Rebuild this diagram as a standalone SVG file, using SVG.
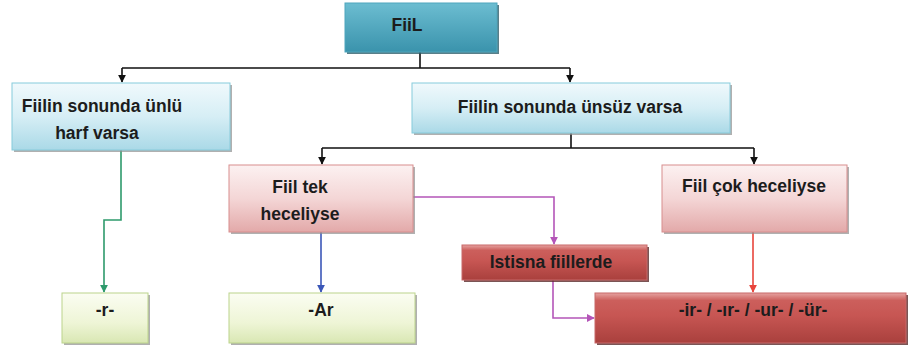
<svg xmlns="http://www.w3.org/2000/svg" width="909" height="351" viewBox="0 0 909 351">
<defs>
<linearGradient id="gTeal" x1="0" y1="0" x2="0" y2="1"><stop offset="0" stop-color="#6cbdd1"/><stop offset="1" stop-color="#3a93ac"/></linearGradient>
<linearGradient id="gBlue" x1="0" y1="0" x2="0" y2="1"><stop offset="0" stop-color="#f0f9fc"/><stop offset="0.5" stop-color="#d6eef5"/><stop offset="1" stop-color="#aad9e7"/></linearGradient>
<linearGradient id="gPink" x1="0" y1="0" x2="0" y2="1"><stop offset="0" stop-color="#fcf1f1"/><stop offset="0.5" stop-color="#f4d6d6"/><stop offset="1" stop-color="#e3a9a9"/></linearGradient>
<linearGradient id="gGreen" x1="0" y1="0" x2="0" y2="1"><stop offset="0" stop-color="#fbfdf2"/><stop offset="0.6" stop-color="#eef5d6"/><stop offset="1" stop-color="#d9e7b3"/></linearGradient>
<linearGradient id="gRed" x1="0" y1="0" x2="0" y2="1"><stop offset="0" stop-color="#e6a3a1"/><stop offset="0.15" stop-color="#cc5f5c"/><stop offset="0.45" stop-color="#c75653"/><stop offset="1" stop-color="#a9403d"/></linearGradient>
<marker id="aK" viewBox="0 0 10 10" refX="9" refY="5" markerWidth="5" markerHeight="5" orient="auto"><path d="M0,0 L10,5 L0,10 z" fill="#111"/></marker>
<marker id="aG" viewBox="0 0 10 10" refX="9" refY="5" markerWidth="5" markerHeight="5" orient="auto"><path d="M0,0 L10,5 L0,10 z" fill="#2e9a6c"/></marker>
<marker id="aB" viewBox="0 0 10 10" refX="9" refY="5" markerWidth="5" markerHeight="5" orient="auto"><path d="M0,0 L10,5 L0,10 z" fill="#3b57b8"/></marker>
<marker id="aM" viewBox="0 0 10 10" refX="9" refY="5" markerWidth="5" markerHeight="5" orient="auto"><path d="M0,0 L10,5 L0,10 z" fill="#b455b8"/></marker>
<marker id="aR" viewBox="0 0 10 10" refX="9" refY="5" markerWidth="5" markerHeight="5" orient="auto"><path d="M0,0 L10,5 L0,10 z" fill="#e8453c"/></marker>
</defs>
<style>
text{font-family:"Liberation Sans",Arial,sans-serif;font-weight:bold;font-size:17.5px;fill:#1c1c1c}
.sh{fill:#8e8e8e;opacity:0.7}
.shd{fill:#5a2a2a;opacity:0.8}
.teal{fill:url(#gTeal);stroke:#4fa6bd;stroke-width:1}
.blue{fill:url(#gBlue);stroke:#86cbdb;stroke-width:1}
.pink{fill:url(#gPink);stroke:#d88e8e;stroke-width:1}
.green{fill:url(#gGreen);stroke:#bcd48c;stroke-width:1}
.red{fill:url(#gRed);stroke:#c86868;stroke-width:1}
.c{fill:none;stroke-width:1.6}
</style>
<g id="connectors">
<path class="c" stroke="#111" d="M420,52 V68 M122,68 H570" />
<path class="c" stroke="#111" d="M122,68 V82" marker-end="url(#aK)"/>
<path class="c" stroke="#111" d="M570,68 V82" marker-end="url(#aK)"/>
<path class="c" stroke="#111" d="M571,133 V148 M322,148 H754"/>
<path class="c" stroke="#111" d="M322,148 V164" marker-end="url(#aK)"/>
<path class="c" stroke="#111" d="M754,148 V164" marker-end="url(#aK)"/>
<path class="c" stroke="#2e9a6c" d="M121,150 V220 H104 V292" marker-end="url(#aG)"/>
<path class="c" stroke="#3b57b8" d="M321,232 V292" marker-end="url(#aB)"/>
<path class="c" stroke="#b455b8" d="M413,197 H554 V244" marker-end="url(#aM)"/>
<path class="c" stroke="#b455b8" d="M553,280 V318 H594" marker-end="url(#aM)"/>
<path class="c" stroke="#e8453c" d="M753,232 V292" marker-end="url(#aR)"/>
</g>
<g id="node-fiil">
<rect class="shd" x="347" y="5" width="152" height="49" style="fill:#2f5f6c"/>
<rect class="teal" x="345" y="3" width="152" height="49"/>
<text x="407" y="31" text-anchor="middle">FiiL</text>
</g>
<g id="node-unlu">
<rect class="sh" x="14" y="85" width="218" height="67"/>
<rect class="blue" x="12" y="83" width="218" height="67"/>
<text x="102" y="112" text-anchor="middle">Fiilin sonunda ünlü</text>
<text x="97" y="139" text-anchor="middle">harf varsa</text>
</g>
<g id="node-unsuz">
<rect class="sh" x="414" y="85" width="318" height="50"/>
<rect class="blue" x="412" y="83" width="318" height="50"/>
<text x="570" y="113" text-anchor="middle">Fiilin sonunda ünsüz varsa</text>
</g>
<g id="node-tek">
<rect class="sh" x="231" y="167" width="184" height="67"/>
<rect class="pink" x="229" y="165" width="184" height="67"/>
<text x="300" y="193" text-anchor="middle">Fiil tek</text>
<text x="300" y="220" text-anchor="middle">heceliyse</text>
</g>
<g id="node-cok">
<rect class="sh" x="664" y="167" width="185" height="67"/>
<rect class="pink" x="662" y="165" width="185" height="67"/>
<text x="754" y="192" text-anchor="middle">Fiil çok heceliyse</text>
</g>
<g id="node-istisna">
<rect class="shd" x="464" y="247" width="185" height="35"/>
<rect class="red" x="462" y="245" width="185" height="35"/>
<text x="551" y="268" text-anchor="middle">Istisna fiillerde</text>
</g>
<g id="node-r">
<rect class="sh" x="64" y="295" width="86" height="50"/>
<rect class="green" x="62" y="293" width="86" height="50"/>
<text x="105" y="316" text-anchor="middle">-r-</text>
</g>
<g id="node-ar">
<rect class="sh" x="231" y="295" width="186" height="50"/>
<rect class="green" x="229" y="293" width="186" height="50"/>
<text x="321" y="316" text-anchor="middle">-Ar</text>
</g>
<g id="node-ir">
<rect class="shd" x="597" y="295" width="311" height="50"/>
<rect class="red" x="595" y="293" width="311" height="50"/>
<text x="753" y="316" text-anchor="middle">-ir- / -ır- / -ur- / -ür-</text>
</g>
</svg>
